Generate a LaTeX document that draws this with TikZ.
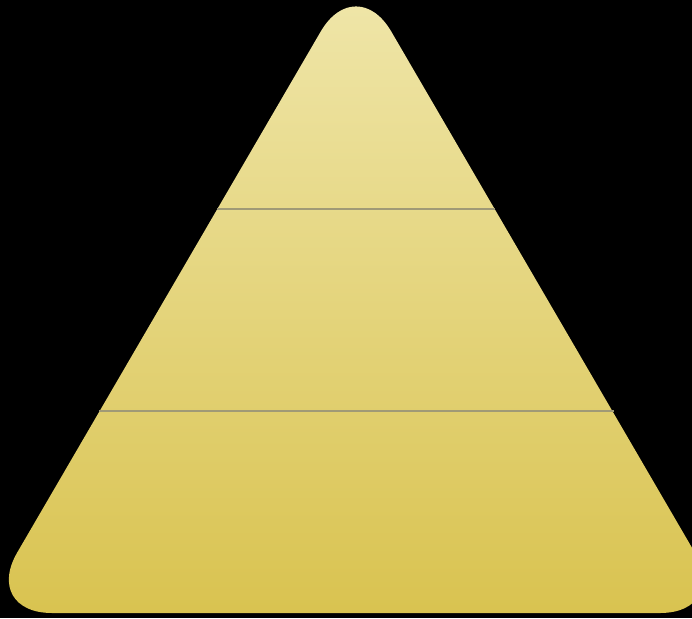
\documentclass[tikz,border=0pt]{standalone}
\definecolor{pyrtop}{RGB}{240,231,172}
\definecolor{pyrbot}{RGB}{217,195,80}
\definecolor{tierline}{RGB}{160,154,118}
\begin{document}
\begin{tikzpicture}[x=1pt, y=-1pt]
    \def\W{692}
    \def\H{618}
    % Background
    \fill[black] (0,0) rectangle (\W,\H);
    \useasboundingbox (0,0) rectangle (\W,\H);
    % Pyramid
    \coordinate (apex) at (356,-29);
    \coordinate (bl) at (-18,613);
    \coordinate (br) at (730,613);
    \shade[top color=pyrtop, bottom color=pyrbot, rounded corners=70pt]
        (apex) -- (br) -- (bl) -- cycle;
    % Tiers
    \coordinate (l1) at (217,209);
    \coordinate (r1) at (495,209);
    \coordinate (l2) at (99,411);
    \coordinate (r2) at (614,411);
    \draw[tierline, line width=2.5pt] (l1) -- (r1);
    \draw[tierline, line width=2.5pt] (l2) -- (r2);
\end{tikzpicture}
\end{document}
